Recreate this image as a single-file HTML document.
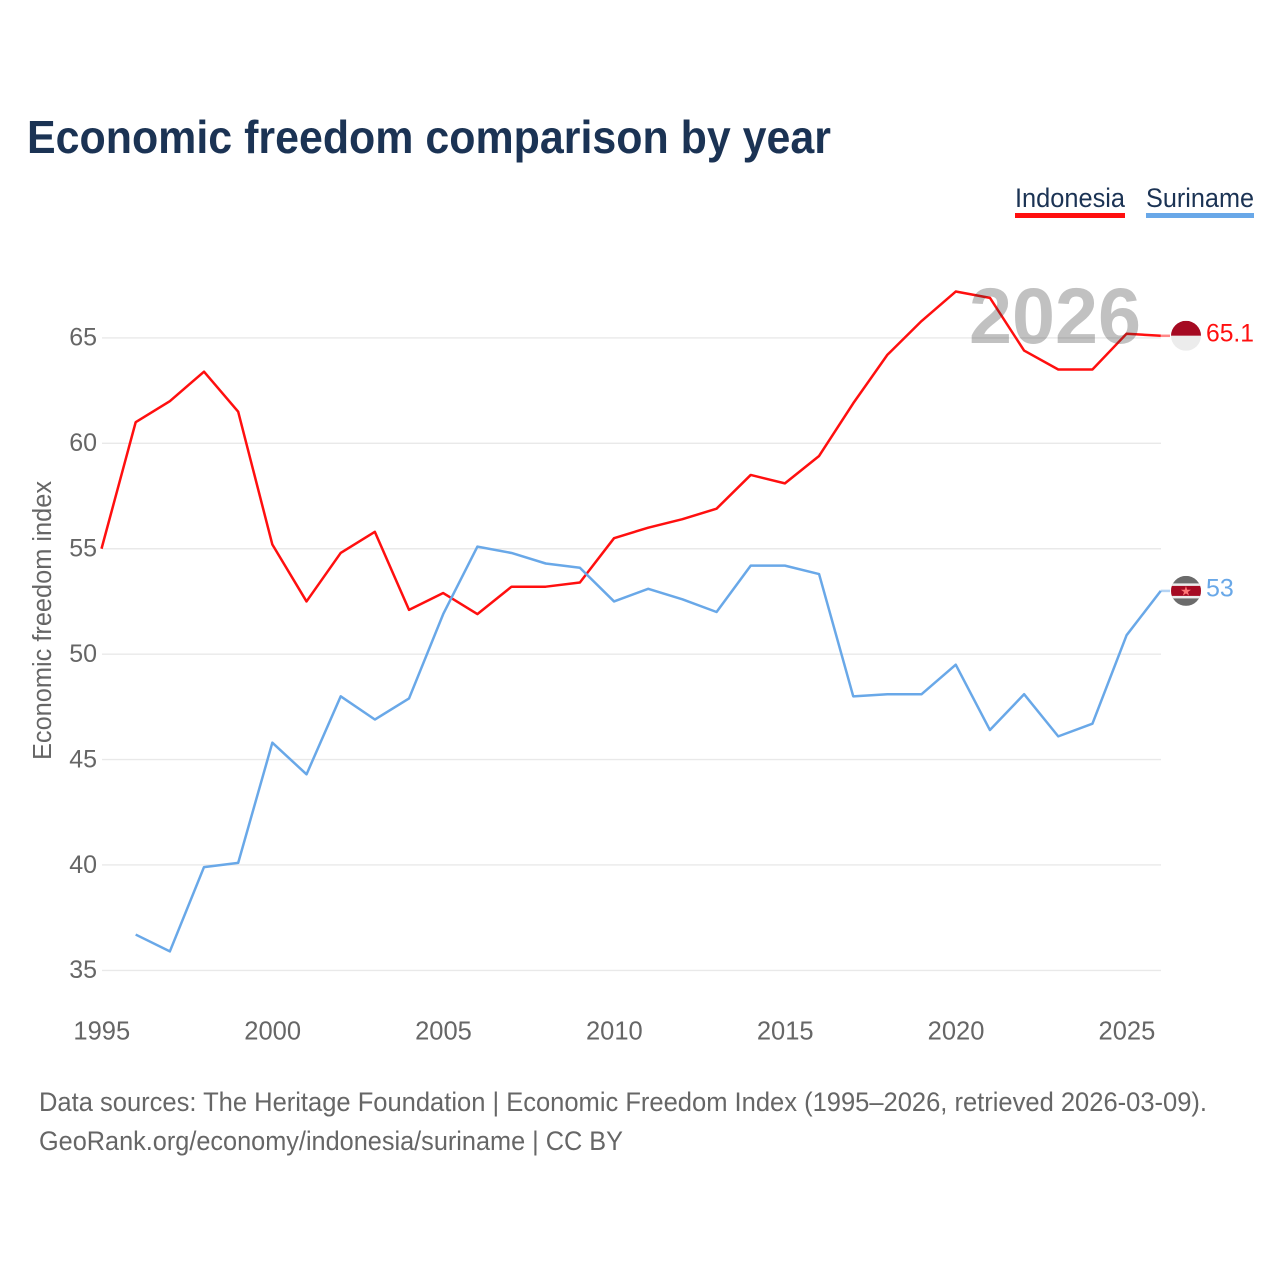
<!DOCTYPE html>
<html lang="en">
<head>
<meta charset="utf-8">
<title>Economic freedom comparison by year</title>
<style>
html,body{margin:0;padding:0;background:#fff;width:1280px;height:1280px;overflow:hidden}
svg{display:block}
text{font-family:"Liberation Sans",sans-serif}
</style>
</head>
<body>
<svg id="chart" xmlns="http://www.w3.org/2000/svg" width="1280" height="1280" viewBox="0 0 1280 1280">
  <defs>
    <clipPath id="flag-clip-a"><circle cx="1186" id="flag-clip-a-c" r="15"/></clipPath>
    <clipPath id="flag-clip-b"><circle cx="1186" id="flag-clip-b-c" r="15"/></clipPath>
  </defs>
  <text x="27" y="153" font-size="46" font-weight="700" fill="#1b3354" textLength="804" lengthAdjust="spacingAndGlyphs">Economic freedom comparison by year</text>
  <text x="1015" y="207" font-size="27" fill="#1b3354" textLength="110" lengthAdjust="spacingAndGlyphs">Indonesia</text>
  <rect x="1015" y="213" width="110" height="5" fill="#ff0f0f"/>
  <text x="1146" y="207" font-size="27" fill="#1b3354" textLength="108" lengthAdjust="spacingAndGlyphs">Suriname</text>
  <rect x="1146" y="213" width="108" height="5" fill="#69a8e8"/>
  <g id="grid"></g>
  <g id="yticks"></g>
  <g id="xticks"></g>
  <text transform="translate(51,620.5) rotate(-90)" text-anchor="middle" font-size="25.5" fill="#666" textLength="279" lengthAdjust="spacingAndGlyphs">Economic freedom index</text>
  <g id="series"></g>
  <text x="969" y="343" font-size="79" font-weight="700" fill="#333" fill-opacity="0.3" textLength="172" lengthAdjust="spacingAndGlyphs">2026</text>
  <g id="flags"></g>
  <text x="39" y="1111" font-size="27" fill="#666" textLength="1168" lengthAdjust="spacingAndGlyphs">Data sources: The Heritage Foundation | Economic Freedom Index (1995–2026, retrieved 2026-03-09).</text>
  <text x="39" y="1150" font-size="27" fill="#666" textLength="584" lengthAdjust="spacingAndGlyphs">GeoRank.org/economy/indonesia/suriname | CC BY</text>
</svg>
<script>
const years = [1995,1996,1997,1998,1999,2000,2001,2002,2003,2004,2005,2006,2007,2008,2009,2010,2011,2012,2013,2014,2015,2016,2017,2018,2019,2020,2021,2022,2023,2024,2025,2026];
const indonesia = [55,61,62,63.4,61.5,55.2,52.5,54.8,55.8,52.1,52.9,51.9,53.2,53.2,53.4,55.5,56,56.4,56.9,58.5,58.1,59.4,61.9,64.2,65.8,67.2,66.9,64.4,63.5,63.5,65.2,65.1];
const suriname = [null,36.7,35.9,39.9,40.1,45.8,44.3,48,46.9,47.9,51.9,55.1,54.8,54.3,54.1,52.5,53.1,52.6,52,54.2,54.2,53.8,48,48.1,48.1,49.5,46.4,48.1,46.1,46.7,50.9,53];
const yTicks = [35,40,45,50,55,60,65];
const xTicks = [1995,2000,2005,2010,2015,2020,2025];

const NS = 'http://www.w3.org/2000/svg';
function x(year){ return 101.5 + (year - 1995) * 34.17; }
function y(val){ return 970.4 - (val - 35) * 21.083; }
function make(tag, attrs, parent){
  const el = document.createElementNS(NS, tag);
  for (const k in attrs) el.setAttribute(k, attrs[k]);
  parent.appendChild(el);
  return el;
}
const gGrid = document.getElementById('grid');
const gY = document.getElementById('yticks');
const gX = document.getElementById('xticks');
const gS = document.getElementById('series');
const gF = document.getElementById('flags');

yTicks.forEach(function(t){
  const line = make('line', {x1:102, x2:1161, y1:y(t), y2:y(t), stroke:'#e9e9e9', 'stroke-width':1.4}, gGrid);
  
  
  const label = make('text', {x:97, y:y(t)+7.8, 'text-anchor':'end', 'font-size':25, fill:'#666'}, gY);
  label.textContent = t;
  
  
});
xTicks.forEach(function(t){
  const label = make('text', {x:x(t)+0.3, y:1039.5, 'text-anchor':'middle', 'font-size':25.5, fill:'#666'}, gX);
  label.textContent = t;
  
  
});

function linePath(vals){
  let d = '';
  vals.forEach(function(v, i){
    if (v === null) return;
    d += (d ? 'L' : 'M') + x(years[i]).toFixed(2) + ' ' + y(v).toFixed(2);
  });
  return d;
}
const lastI = years.length - 1;

const lineA = make('path', {d:linePath(indonesia), fill:'none', stroke:'#ff0f0f', 'stroke-width':2.5, 'stroke-linejoin':'round'}, gS);


const lineB = make('path', {d:linePath(suriname), fill:'none', stroke:'#69a8e8', 'stroke-width':2.5, 'stroke-linejoin':'round'}, gS);



const tailA = make('line', {x1:x(years[lastI]), x2:1170, y1:y(indonesia[lastI]), y2:y(indonesia[lastI]), stroke:'#ff0f0f', 'stroke-opacity':0.5, 'stroke-width':2.5}, gS);


const tailB = make('line', {x1:x(years[lastI]), x2:1170, y1:y(suriname[lastI]), y2:y(suriname[lastI]), stroke:'#69a8e8', 'stroke-opacity':0.5, 'stroke-width':2.5}, gS);



/* Indonesia flag */
const ay = y(indonesia[lastI]);
document.getElementById('flag-clip-a-c').setAttribute('cy', ay);
const flagA = make('g', {'clip-path':'url(#flag-clip-a)'}, gF);


make('rect', {x:1171, y:ay-15, width:30, height:15, fill:'#a50a22'}, flagA);
make('rect', {x:1171, y:ay, width:30, height:15, fill:'#ececec'}, flagA);

/* Suriname flag */
const by = y(suriname[lastI]);
document.getElementById('flag-clip-b-c').setAttribute('cy', by);
const flagB = make('g', {'clip-path':'url(#flag-clip-b)'}, gF);


make('rect', {x:1171, y:by-15, width:30, height:30, fill:'#6b6b6b'}, flagB);
make('rect', {x:1171, y:by-7.5, width:30, height:15, fill:'#ececec'}, flagB);
make('rect', {x:1171, y:by-5, width:30, height:10, fill:'#a50a22'}, flagB);
const star = make('text', {x:1186, y:by+4.5, 'text-anchor':'middle', 'font-size':13, fill:'#f77'}, flagB);
star.textContent = '★';
star.style.fontFamily = '"DejaVu Sans",sans-serif';



/* End values */
const valA = make('text', {x:1206, y:ay+5.5, 'font-size':25, fill:'#ff0f0f', textLength:48, lengthAdjust:'spacingAndGlyphs'}, gF);
valA.textContent = indonesia[lastI];


const valB = make('text', {x:1206, y:by+5.5, 'font-size':25, fill:'#69a8e8'}, gF);
valB.textContent = suriname[lastI];


</script>
</body>
</html>
